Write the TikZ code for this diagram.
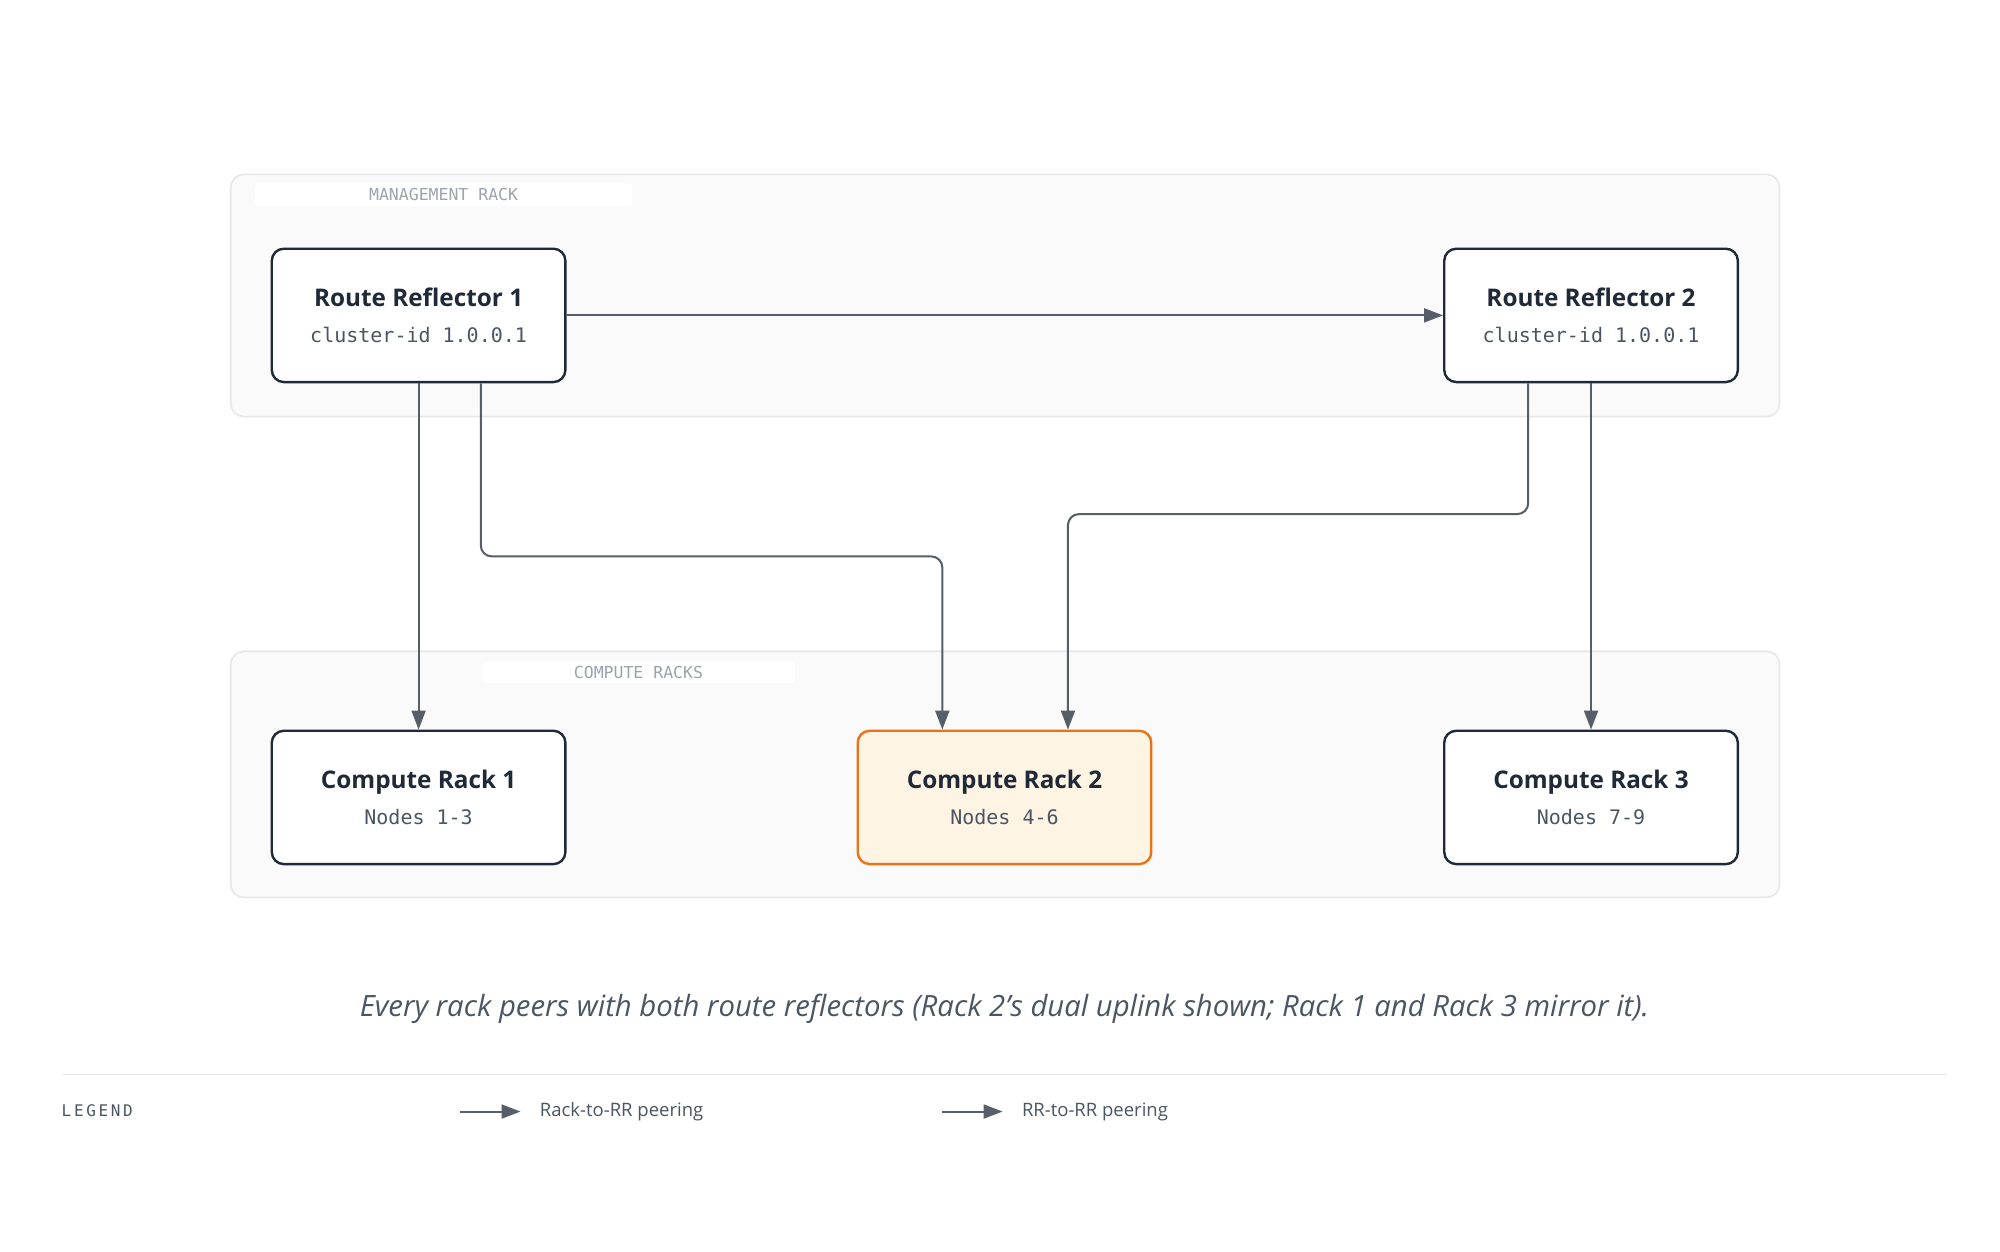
\documentclass[tikz,border=0pt]{standalone}
\usepackage{fontspec}
\setmainfont{Open Sans}
\setmonofont{DejaVu Sans Mono}
\usetikzlibrary{arrows.meta,calc}
\newlength\ux
\setlength\ux{1.2821pt}
\definecolor{ink}{HTML}{1F2937}
\definecolor{wire}{HTML}{565E69}
\definecolor{subtxt}{HTML}{4B5563}
\definecolor{lbltxt}{HTML}{9CA3AF}
\definecolor{panel}{HTML}{FAFAFA}
\definecolor{panelline}{HTML}{E5E7EB}
\definecolor{orange}{HTML}{EA7317}
\definecolor{orangefill}{HTML}{FEF4E4}
\tikzset{
  panelbox/.style={draw=panelline, fill=panel, line width=1.6pt, rounded corners=13pt},
  tagbox/.style={fill=white, rounded corners=4pt, inner sep=0pt, text=lbltxt, font=\fontsize{16.5}{18}\selectfont\ttfamily},
  rackbox/.style={draw=ink, fill=white, line width=2.4pt, rounded corners=12pt, minimum width=229\ux, minimum height=104\ux, align=center, inner sep=0pt, font=\fontsize{20}{36}\selectfont},
  hotbox/.style={rackbox, draw=orange, fill=orangefill},
  arr/.style={draw=wire, line width=2pt, rounded corners=11pt, -{Triangle[length=19pt,width=14pt]}},
}
\newcommand\rtitle[1]{{\fontsize{24.3}{36}\selectfont\bfseries\color{ink}#1}}
\newcommand\rsub[1]{{\fontsize{20}{36}\selectfont\ttfamily\color{subtxt}#1}}
\begin{document}
\begin{tikzpicture}[x=1.2821pt,y=-1.2821pt]
\useasboundingbox[fill=white] (0,0) rectangle (1560,976.5);
% panels
\draw[panelbox] (180,136) rectangle (1388,325);
\node[tagbox, minimum width=294\ux, minimum height=18\ux] (tagm) at (346,152) {MANAGEMENT RACK};
\draw[panelbox] (180,508) rectangle (1388,700);
\node[tagbox, minimum width=244\ux, minimum height=17\ux] (tagc) at (498,524.5) {COMPUTE RACKS};
% nodes
\node[rackbox] (rr1) at (326.5,246) {\rtitle{Route Reflector 1}\\\rsub{cluster-id 1.0.0.1}};
\node[rackbox] (rr2) at (1241,246) {\rtitle{Route Reflector 2}\\\rsub{cluster-id 1.0.0.1}};
\node[rackbox] (cr1) at (326.5,622) {\rtitle{Compute Rack 1}\\\rsub{Nodes 1-3}};
\node[hotbox] (cr2) at (783.5,622) {\rtitle{Compute Rack 2}\\\rsub{Nodes 4-6}};
\node[rackbox] (cr3) at (1241,622) {\rtitle{Compute Rack 3}\\\rsub{Nodes 7-9}};
% connectors
\coordinate (a1) at (375,434);
\coordinate (a2) at (735,434);
\coordinate (b1) at (1192,401);
\coordinate (b2) at (833,401);
\draw[arr] (rr1.east) -- (rr2.west);
\draw[arr] (rr1.south) -- (cr1.north);
\draw[arr] ([xshift=48.5\ux]rr1.south) -- (a1) -- (a2) -- ([xshift=-48.5\ux]cr2.north);
\draw[arr] ([xshift=-49\ux]rr2.south) -- (b1) -- (b2) -- ([xshift=49.5\ux]cr2.north);
\draw[arr] (rr2.south) -- (cr3.north);
% caption
\node[font=\fontsize{29.3}{33}\selectfont\itshape, text=subtxt] (cap) at (783.5,787) {Every rack peers with both route reflectors (Rack 2's dual uplink shown; Rack 1 and Rack 3 mirror it).};
% legend
\coordinate (s1) at (48,838);
\coordinate (s2) at (1519,838);
\draw[panelline, line width=1.6pt] (s1) -- (s2);
\node[anchor=west, inner sep=0pt, text=subtxt, font=\fontsize{16}{18}\selectfont\ttfamily] (leg) at (48,866) {L\,E\,G\,E\,N\,D};
\coordinate (l1a) at (359,867);
\coordinate (l1b) at (406,867);
\coordinate (l2a) at (735,867);
\coordinate (l2b) at (782,867);
\draw[arr] (l1a) -- (l1b);
\draw[arr] (l2a) -- (l2b);
\node[anchor=west, inner sep=0pt, text=subtxt, font=\fontsize{18.5}{22}\selectfont] (leg1) at (421,867) {Rack-to-RR peering};
\node[anchor=west, inner sep=0pt, text=subtxt, font=\fontsize{18.5}{22}\selectfont] (leg2) at (797,867) {RR-to-RR peering};
\end{tikzpicture}
\end{document}
